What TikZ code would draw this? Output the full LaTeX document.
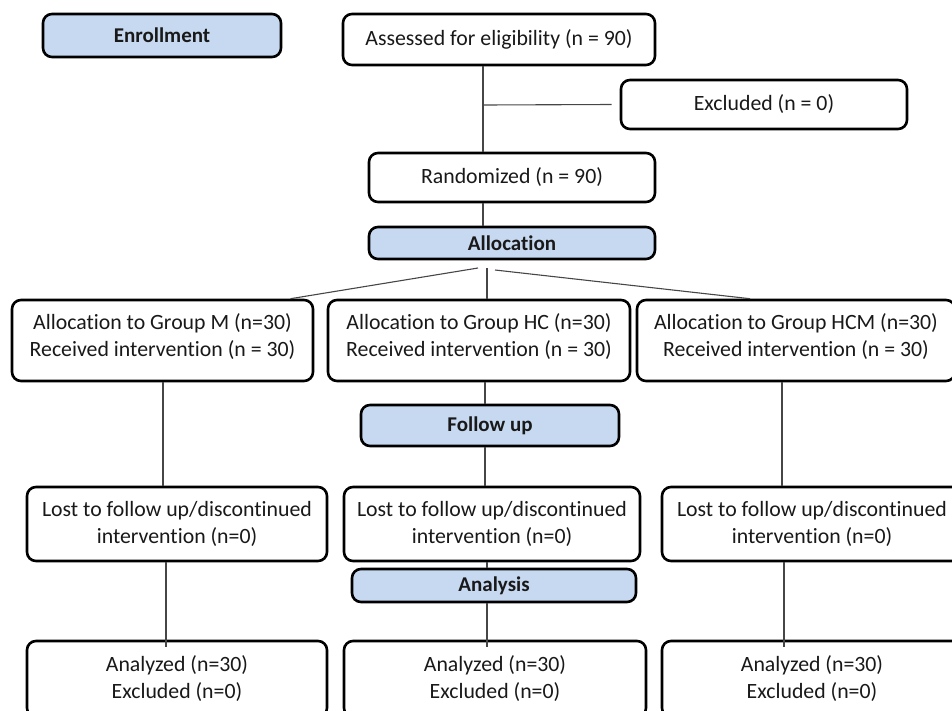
\documentclass[tikz,border=0pt]{standalone}
\usepackage{fontspec}
\setmainfont[Ligatures={NoCommon}]{Carlito}
\definecolor{hdrblue}{RGB}{198,217,240}
\definecolor{linegray}{RGB}{70,70,70}
\definecolor{txt}{RGB}{25,25,25}
\begin{document}
\begin{tikzpicture}[x=1pt,y=-1pt,
  box/.style={draw=black,line width=2.6pt,rounded corners=9pt,fill=white,inner sep=0pt,align=center,text=txt,font=\fontsize{21.8}{27}\selectfont},
  hdr/.style={box,fill=hdrblue,font=\fontsize{21}{24}\selectfont\bfseries},
  conn/.style={draw=linegray,line width=1.1pt}]
\useasboundingbox (0,0) rectangle (952,710);
% enrollment
\node[hdr,minimum width=238pt,minimum height=43pt] (enr) at (162,35.5) {Enrollment};
\node[box,minimum width=312pt,minimum height=51pt] (assess) at (499,39.5) {Assessed for eligibility (n = 90)};
\node[box,minimum width=286pt,minimum height=49pt] (excl) at (764,104.5) {Excluded (n = 0)};
\node[box,minimum width=286pt,minimum height=49pt] (rand) at (512,177.5) {Randomized (n = 90)};
\node[hdr,minimum width=286pt,minimum height=32pt] (alloc) at (512,243) {Allocation};
% allocation groups
\node[box,minimum width=301pt,minimum height=81pt] (gm) at (162.5,340.5) {Allocation to Group M (n=30)\\Received intervention (n = 30)\\[-16pt]};
\node[box,minimum width=302pt,minimum height=81pt] (ghc) at (479,340.5) {Allocation to Group HC (n=30)\\Received intervention (n = 30)\\[-16pt]};
\node[box,minimum width=318pt,minimum height=81pt] (ghcm) at (796,340.5) {Allocation to Group HCM (n=30)\\Received intervention (n = 30)\\[-16pt]};
% follow up
\node[hdr,minimum width=258pt,minimum height=41pt] (fu) at (490,425.5) {Follow up};
\node[box,minimum width=300pt,minimum height=74pt] (lm) at (177,524) {Lost to follow up/discontinued\\intervention (n=0)};
\node[box,minimum width=296pt,minimum height=74pt] (lhc) at (492,524) {Lost to follow up/discontinued\\intervention (n=0)};
\node[box,minimum width=300pt,minimum height=74pt] (lhcm) at (812,524) {Lost to follow up/discontinued\\intervention (n=0)};
% analysis
\node[hdr,minimum width=284pt,minimum height=33pt] (ana) at (494,585.5) {Analysis};
\node[box,minimum width=300pt,minimum height=76pt] (am) at (177,679) {Analyzed (n=30)\\Excluded (n=0)};
\node[box,minimum width=302pt,minimum height=76pt] (ahc) at (495,679) {Analyzed (n=30)\\Excluded (n=0)};
\node[box,minimum width=300pt,minimum height=76pt] (ahcm) at (812,679) {Analyzed (n=30)\\Excluded (n=0)};
% connectors
\coordinate (j1) at (483,105);
\coordinate (a1) at (478,268);
\coordinate (a2) at (487,268);
\coordinate (a3) at (495,270);
\draw[conn] (assess.south -| j1) -- (rand.north -| j1);
\draw[conn] (j1) -- ([xshift=-8pt]excl.west);
\draw[conn] (rand.south -| j1) -- (alloc.north -| j1);
\draw[conn] (a1) -- ([xshift=128pt]gm.north);
\draw[conn] (a2) -- (ghc.north -| a2);
\draw[conn] (a3) -- ([xshift=-46pt]ghcm.north);
\coordinate (cm) at (163,0);
\coordinate (chc) at (485,0);
\coordinate (chcm) at (782,0);
\draw[conn] (gm.south -| cm) -- (lm.north -| cm);
\draw[conn] (ghc.south -| chc) -- (fu.north -| chc);
\draw[conn] (fu.south -| chc) -- (lhc.north -| chc);
\draw[conn] (ghcm.south -| chcm) -- (lhcm.north -| chcm);
\coordinate (dm) at (166,0);
\coordinate (dhc) at (487,0);
\coordinate (dhcm) at (784,0);
\draw[conn] (lm.south -| dm) -- ([yshift=-7pt]am.north -| dm);
\draw[conn] (lhc.south -| dhc) -- (ana.north -| dhc);
\draw[conn] (ana.south -| dhc) -- ([yshift=-7pt]ahc.north -| dhc);
\draw[conn] (lhcm.south -| dhcm) -- ([yshift=-7pt]ahcm.north -| dhcm);
\end{tikzpicture}
\end{document}
